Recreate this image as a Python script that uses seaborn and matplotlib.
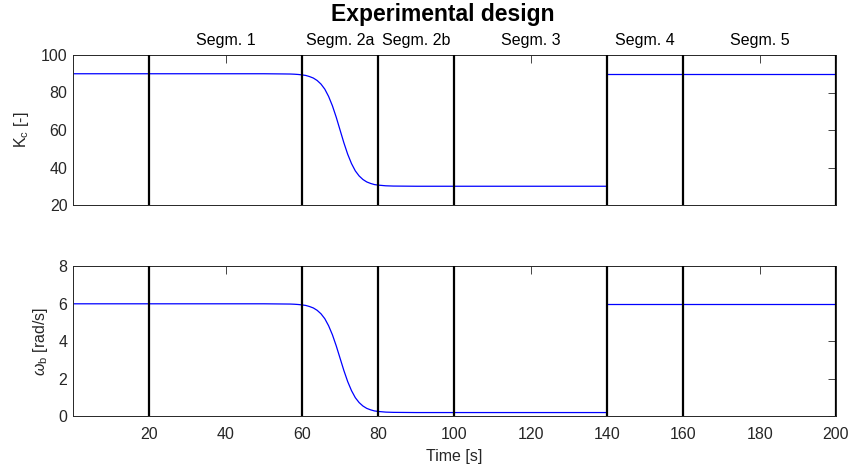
import numpy as np
import pandas as pd
import matplotlib
matplotlib.use("Agg")
import matplotlib.pyplot as plt
import seaborn as sns

# ---- data ----
time_a = [0, 50, 55, 57, 58, 59, 60, 61, 62, 63, 64, 65, 66, 67, 68, 69, 70,
          71, 72, 73, 74, 75, 76, 77, 78, 79, 80, 82, 84, 90, 140]
kc_a = [90.0, 90.0, 89.9, 89.85, 89.76, 89.62, 89.4, 89.1, 88.5, 87.7, 86.4,
        84.5, 81.8, 77.9, 72.9, 66.8, 60.0, 53.2, 47.1, 42.1, 38.2, 35.5,
        33.6, 32.3, 31.5, 30.9, 30.6, 30.24, 30.1, 30.0, 30.0]
wb_a = [6.0, 6.0, 5.99, 5.986, 5.977, 5.963, 5.942, 5.913, 5.855, 5.778,
        5.652, 5.468, 5.207, 4.830, 4.347, 3.757, 3.100, 2.443, 1.853, 1.370,
        0.993, 0.732, 0.548, 0.422, 0.345, 0.287, 0.258, 0.223, 0.210, 0.2, 0.2]
time_b = [140, 200]
kc_b = [90.0, 90.0]
wb_b = [6.0, 6.0]

boundaries = [20, 60, 80, 100, 140, 160, 200]
seg_names = ["Segm. 1", "Segm. 2a", "Segm. 2b", "Segm. 3", "Segm. 4", "Segm. 5"]
seg_centers = [40, 70, 90, 120, 150, 180]
xticks = [20, 40, 60, 80, 100, 120, 140, 160, 180, 200]
kc_ticks = [20, 40, 60, 80, 100]
wb_ticks = [0, 2, 4, 6, 8]

df = pd.DataFrame({
    "t": time_a + time_b,
    "Kc": kc_a + kc_b,
    "wb": wb_a + wb_b,
    "seg": ["a"] * len(time_a) + ["b"] * len(time_b),
})

sns.set_theme(style="white")
plt.rcParams["font.family"] = ["Liberation Sans", "DejaVu Sans"]
plt.rcParams["mathtext.fontset"] = "custom"
plt.rcParams["mathtext.rm"] = "Liberation Sans"
plt.rcParams["mathtext.it"] = "Liberation Sans:italic"
plt.rcParams["mathtext.sf"] = "Liberation Sans"

W, H = 849, 470
fig = plt.figure(figsize=(W / 100, H / 100), dpi=100)
fig.patch.set_facecolor("white")
left = 73 / W
width = (836 - 73) / W
ax1 = fig.add_axes([left, 1 - 205 / H, width, 150 / H])
ax2 = fig.add_axes([left, 1 - 416.3 / H, width, 150 / H])

dark = "#262626"
for ax, col, ylim, yt in [(ax1, "Kc", (20, 100), kc_ticks), (ax2, "wb", (0, 8), wb_ticks)]:
    sns.lineplot(data=df, x="t", y=col, units="seg", estimator=None,
                 color=(0, 0, 1), lw=0.9, ax=ax, legend=False)
    for b in boundaries:
        ax.axvline(b, color="black", lw=1.6, zorder=3)
    ax.set_xlim(0, 200)
    ax.set_ylim(*ylim)
    ax.set_xticks(xticks)
    ax.set_yticks(yt)
    ax.tick_params(direction="in", length=5.5, width=0.6, colors=dark,
                   labelsize=11.5, top=True, right=True)
    ax.tick_params(axis="y", pad=4)
    ax.tick_params(axis="x", pad=8)
    for s in ax.spines.values():
        s.set_visible(True)
        s.set_color(dark)
        s.set_linewidth(0.7)
    ax.set_facecolor("white")

ax1.set_xticklabels([])
ax1.set_xlabel("")
ax1.set_ylabel(r"K$_\mathrm{c}$ [-]", fontsize=11.5, color=dark, labelpad=7)
ax2.set_ylabel(r"$\omega_\mathrm{b}$ [rad/s]", fontsize=11.5, color=dark, labelpad=6)
ax2.set_xlabel("Time [s]", fontsize=11.5, color=dark, labelpad=5)

for name, c in zip(seg_names, seg_centers):
    ax1.text(c, 1.0 + 14 / 150, name, transform=ax1.get_xaxis_transform(),
             ha="center", va="center", fontsize=11.5, color="black")

fig.text(443 / W, 1 - 14 / H, "Experimental design", ha="center", va="center",
         fontsize=16.5, fontweight="bold", color="black")

fig.savefig("out.png", dpi=100, facecolor="white")
